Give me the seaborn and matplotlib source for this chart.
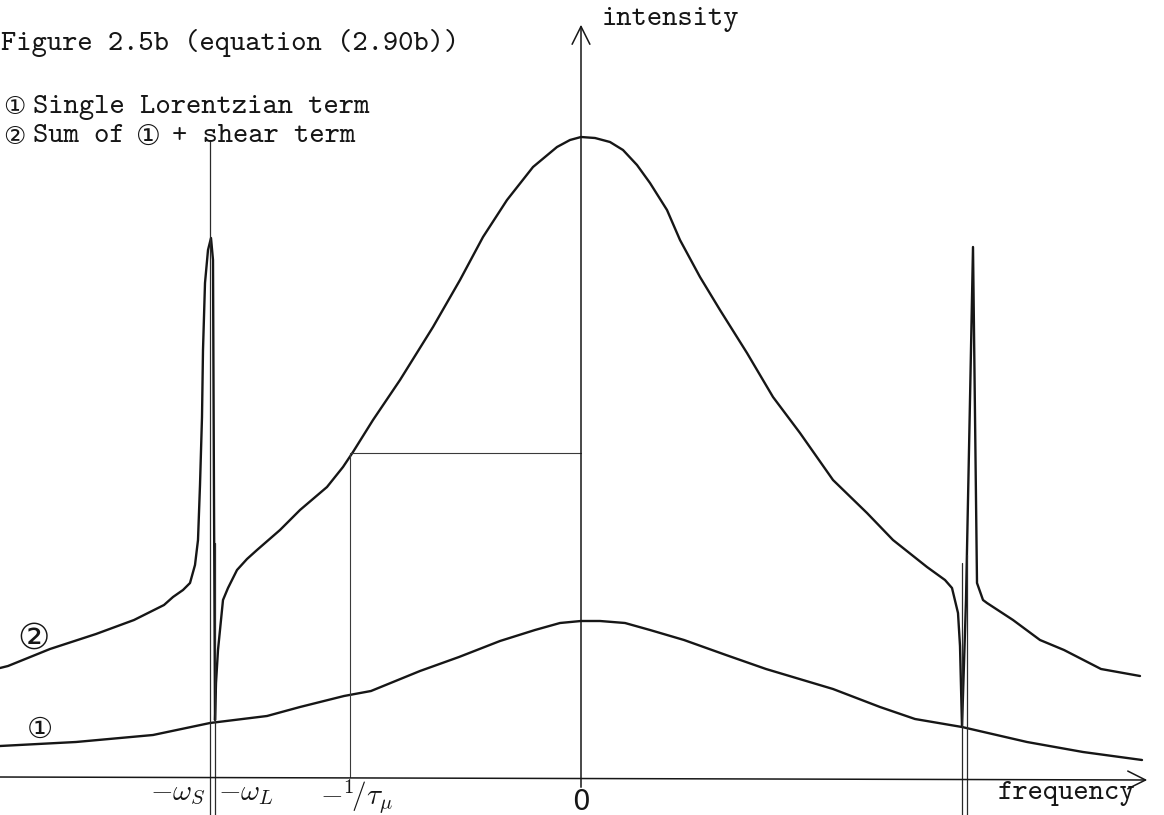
import matplotlib
matplotlib.use("Agg")
import matplotlib.pyplot as plt
import pandas as pd
import seaborn as sns

# ---------------- data (arbitrary units) ----------------
# curve 1: single Lorentzian term
lorentz_freq = [-5.81, -5.05, -4.28, -3.71, -3.14, -2.81, -2.37, -2.10, -1.61, -1.22,
                -0.81, -0.46, -0.21, 0.00, 0.19, 0.44, 0.69, 1.03, 1.45, 1.85,
                2.52, 2.99, 3.34, 3.81, 4.46, 5.02, 5.61]
lorentz_int = [0.31, 0.35, 0.42, 0.54, 0.61, 0.70, 0.81, 0.86, 1.06, 1.20,
               1.36, 1.47, 1.54, 1.56, 1.56, 1.54, 1.47, 1.37, 1.22, 1.08,
               0.88, 0.70, 0.58, 0.50, 0.35, 0.25, 0.17]

# curve 2: sum of curve 1 + shear term (with the two sharp resonances)
sum_freq = [-5.81, -5.73, -5.31, -4.85, -4.47, -4.17, -4.08, -3.98, -3.91, -3.86,
            -3.83, -3.81, -3.79, -3.78, -3.76, -3.73, -3.70, -3.68, -3.67, -3.66,
            -3.65, -3.63, -3.58, -3.53, -3.44, -3.34, -3.24, -3.01, -2.81, -2.54,
            -2.38, -2.28, -2.08, -1.81, -1.48, -1.21, -0.98, -0.74, -0.48, -0.24,
            -0.11, 0.00, 0.14, 0.29, 0.42, 0.56, 0.69, 0.86, 0.99, 1.19,
            1.39, 1.66, 1.92, 2.19, 2.52, 2.86, 3.12, 3.46, 3.64, 3.71,
            3.77, 3.79, 3.81, 3.85, 3.89, 3.92, 3.96, 4.02, 4.06, 4.32,
            4.59, 4.83, 5.20, 5.59]
sum_int = [1.09, 1.11, 1.28, 1.43, 1.57, 1.72, 1.80, 1.87, 1.94, 2.12,
           2.37, 2.92, 3.60, 4.27, 4.94, 5.27, 5.39, 5.17, 2.77, 0.57,
           0.94, 1.27, 1.77, 1.89, 2.07, 2.18, 2.27, 2.47, 2.67, 2.90,
           3.10, 3.25, 3.57, 3.97, 4.50, 4.97, 5.40, 5.77, 6.10, 6.30,
           6.37, 6.40, 6.39, 6.35, 6.27, 6.12, 5.94, 5.67, 5.37, 5.00,
           4.67, 4.24, 3.80, 3.44, 2.97, 2.64, 2.37, 2.10, 1.97, 1.89,
           1.64, 1.31, 0.50, 1.77, 3.77, 5.30, 1.94, 1.77, 1.74, 1.57,
           1.37, 1.27, 1.08, 1.01]

# marked frequencies on the axis
mark_freq = [-3.71, -3.66, -2.31, 0.0]
mark_labels = [r"$-\omega_S$", r"$-\omega_L$", r"$-{}^{1}\!/\tau_{\mu}$", "0"]
# guide lines (frequency, top intensity)
guide_freq = [-3.71, -3.66, 3.81, 3.86]
guide_top = [6.37, 2.34, 2.14, 2.22]
half_freq = -2.31
half_level = 3.24

title_text = "Figure 2.5b (equation (2.90b))"
legend_1 = "Single Lorentzian term"
legend_2a = "Sum of"
legend_2b = "+ shear term"

# ---------------- figure ----------------
sns.set_theme(style="white")
plt.rcParams["mathtext.fontset"] = "cm"
ink = "#161616"

W, H = 1164, 815
fig = plt.figure(figsize=(W / 100, H / 100), dpi=100)
fig.patch.set_facecolor("white")
ax = fig.add_axes([0, 0, 1, 1])
ax.set_facecolor("white")
xmin, xmax, ymin, ymax = -5.81, 5.83, -0.38, 7.77

df1 = pd.DataFrame({"freq": lorentz_freq, "intensity": lorentz_int})
df2 = pd.DataFrame({"freq": sum_freq, "intensity": sum_int})
sns.lineplot(data=df1, x="freq", y="intensity", ax=ax, color=ink, lw=1.7,
             sort=False, estimator=None)
sns.lineplot(data=df2, x="freq", y="intensity", ax=ax, color=ink, lw=1.7,
             sort=False, estimator=None)

# guide lines
for f, t in zip(guide_freq, guide_top):
    ax.plot([f, f], [ymin, t], color="#2a2a2a", lw=0.9)
ax.plot([half_freq, half_freq], [0, half_level], color="#3a3a3a", lw=0.8)
ax.plot([half_freq, 0], [half_level, half_level], color="#3a3a3a", lw=0.8)

# axes with arrows
ax.annotate("", xy=(0.0, 7.55), xytext=(0.0, -0.13),
            arrowprops=dict(arrowstyle="->", lw=1.1, color=ink, mutation_scale=32))
ax.annotate("", xy=(5.69, -0.03), xytext=(-5.85, 0.0),
            arrowprops=dict(arrowstyle="->", lw=1.1, color=ink, mutation_scale=32))

# axis marks
ax.text(mark_freq[0] - 0.04, -0.16, mark_labels[0], ha="right", va="center",
        fontsize=21, color=ink)
ax.text(mark_freq[1] + 0.03, -0.16, mark_labels[1], ha="left", va="center",
        fontsize=21, color=ink)
ax.text(mark_freq[2] + 0.06, -0.19, mark_labels[2], ha="center", va="center",
        fontsize=21, color=ink)
ax.text(mark_freq[3], -0.25, mark_labels[3], ha="center", va="center",
        fontsize=20, color=ink)

tt = ["cmtt10", "DejaVu Sans"]
ax.text(4.17, -0.17, "frequency", ha="left", va="center", fontsize=21,
        family=tt, color=ink)
ax.text(0.21, 7.58, "intensity", ha="left", va="center", fontsize=21,
        family=tt, color=ink)

# curve labels
ax.text(-5.47, 1.38, "②", ha="center", va="center", fontsize=26,
        family=["DejaVu Sans"], color=ink)
ax.text(-5.41, 0.47, "①", ha="center", va="center", fontsize=21,
        family=["DejaVu Sans"], color=ink)

# header texts (figure pixel positions)
def fx(px):
    return px / W

def fy(py):
    return 1 - py / H

fig.text(fx(1), fy(43), title_text, ha="left", va="center", fontsize=21,
         family=tt, color=ink)
fig.text(fx(14), fy(107), "①", ha="center", va="center", fontsize=18,
         family=["DejaVu Sans"], color=ink)
fig.text(fx(33), fy(108), legend_1, ha="left", va="center", fontsize=21,
         family=tt, color=ink)
fig.text(fx(14), fy(137), "②", ha="center", va="center", fontsize=18,
         family=["DejaVu Sans"], color=ink)
fig.text(fx(33), fy(137), legend_2a, ha="left", va="center", fontsize=21,
         family=tt, color=ink)
fig.text(fx(148), fy(137), "①", ha="center", va="center", fontsize=20,
         family=["DejaVu Sans"], color=ink)
fig.text(fx(172), fy(137), legend_2b, ha="left", va="center", fontsize=21,
         family=tt, color=ink)

ax.set_xlim(xmin, xmax)
ax.set_ylim(ymin, ymax)
ax.set_axis_off()

fig.savefig("out.png", dpi=100, facecolor="white")
